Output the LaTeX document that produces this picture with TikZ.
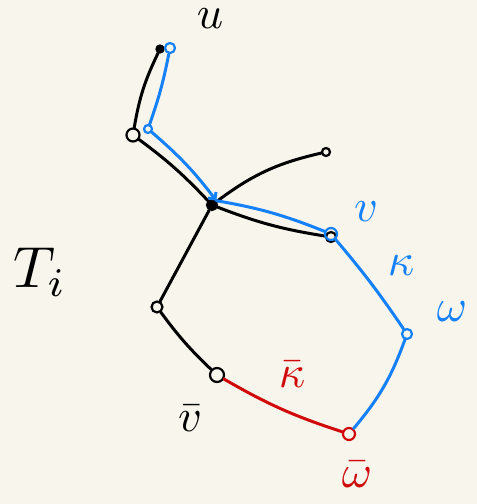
\documentclass[tikz,border=0pt]{standalone}
\usepackage{amsmath}
\usepackage{graphicx}
\usepackage{tikz}
\usetikzlibrary{arrows.meta,positioning}
\definecolor{paper}{RGB}{248,246,236}
\definecolor{pathblue}{RGB}{20,128,250}
\definecolor{pathred}{RGB}{208,10,10}
\newcommand{\biglbl}[1]{\scalebox{4.6}{$#1$}}
\begin{document}
\begin{tikzpicture}[x=1pt,y=-1pt,
        vert/.style={circle, draw, line width=2.2pt, inner sep=0pt, minimum size=10pt},
        edge/.style={line width=3pt, line cap=round}]

        \fill[paper] (0,0) rectangle (477,504);

        % tree T_i
        \node[vert, fill=black, minimum size=7pt] (u) at (160,49) {};
        \node[vert, minimum size=13pt] (a) at (133,135) {};
        \node[vert, fill=black, minimum size=10pt] (c) at (212,205) {};
        \node[vert, minimum size=8pt] (leaf) at (326,152) {};
        \node[vert] (v) at (331,237) {};
        \node[vert, minimum size=11pt] (left) at (157,307) {};
        \node[vert, minimum size=14pt] (vbar) at (217,375) {};

        \draw[edge] (u) to[bend right=8] (a);
        \draw[edge] (a) to[bend left=5] (c);
        \draw[edge] (c) to[bend left=12] (leaf);
        \draw[edge] (c) to[bend right=6] (v);
        \draw[edge] (c) -- (left);
        \draw[edge] (left) to[bend right=5] (vbar);

        % path to omega
        \node[vert, draw=pathblue] (u2) at (170,48) {};
        \node[vert, draw=pathblue, minimum size=8pt] (a2) at (148,129) {};
        \node[vert, draw=pathblue, minimum size=12pt] (v2) at (331,234) {};
        \node[vert, draw=pathblue] (w) at (407,334) {};
        \node[vert, draw=pathred, minimum size=12pt] (wbar) at (349,434) {};

        \draw[edge, pathblue] (u2) to[bend left=4] (a2);
        \draw[edge, pathblue, -{Straight Barb[length=5pt,width=10pt]}] (a2) to[bend left=6] (c.north east);
        \draw[edge, pathblue] (c.north east) to[bend left=6] (v2);
        \draw[edge, pathblue] (v2) to[bend left=3] (w);
        \draw[edge, pathblue] (w) to[bend left=10] (wbar);
        \draw[edge, pathred] (vbar) to[bend right=6] (wbar);

        % labels
        \node[inner sep=0pt] (ulbl) at (210,19) {\biglbl{u}};
        \node[text=pathblue] (vlbl) at (366,212) {\biglbl{v}};
        \node[text=pathblue] (klbl) at (401,266) {\biglbl{\kappa}};
        \node[text=pathblue] (wlbl) at (452,312) {\biglbl{\omega}};
        \node (Ti) at (40,272) {\scalebox{5.8}{$T_i$}};
        \node (vbarlbl) at (190,418) {\biglbl{\bar v}};
        \node[text=pathred] (kbarlbl) at (292,374) {\biglbl{\bar\kappa}};
        \node[text=pathred] (wbarlbl) at (357,474) {\biglbl{\bar\omega}};
\end{tikzpicture}
\end{document}
